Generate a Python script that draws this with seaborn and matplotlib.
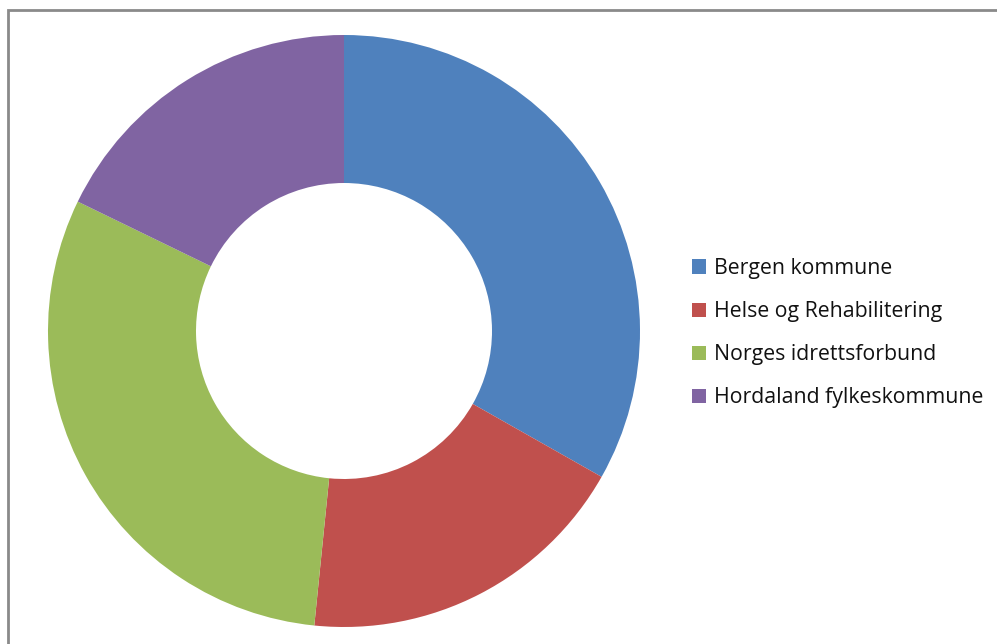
import matplotlib
matplotlib.use("Agg")
import matplotlib.pyplot as plt
import seaborn as sns
from matplotlib.patches import Rectangle, Patch

categories = ["Bergen kommune", "Helse og Rehabilitering", "Norges idrettsforbund", "Hordaland fylkeskommune"]
values = [33.2, 18.4, 30.6, 17.8]
colors = ["#4F81BD", "#C0504D", "#9BBB59", "#8064A2"]

sns.set_theme(style="white")
plt.rcParams["font.family"] = ["Open Sans", "DejaVu Sans"]

W, H = 997, 644
fig = plt.figure(figsize=(W / 100, H / 100), dpi=100)
fig.patch.set_facecolor("white")

# chart frame
fig.patches.append(Rectangle((8 / W, -0.1), 1.2, (H - 10) / H + 0.1, transform=fig.transFigure,
                             fill=False, edgecolor="#8a8a8a", linewidth=2.0, zorder=0))

cx, cy, r = 344, 331, 296
ax = fig.add_axes([(cx - r) / W, (H - cy - r) / H, 2 * r / W, 2 * r / H])
wedges, _ = ax.pie(values, colors=colors, startangle=90, counterclock=False, radius=1,
                   wedgeprops=dict(width=0.5, linewidth=0))
ax.set_xlim(-1, 1)
ax.set_ylim(-1, 1)
ax.set_aspect("equal")
ax.axis("off")

handles = [Patch(facecolor=c, edgecolor="none") for c in colors]
leg = fig.legend(handles, categories, loc="upper left",
                 bbox_to_anchor=(692 / W, (H - 258) / H), frameon=False,
                 fontsize=15.3, handlelength=0.65, handleheight=0.65, handletextpad=0.4,
                 labelspacing=1.04, borderpad=0, borderaxespad=0, labelcolor="#111111")

fig.savefig("out.png", dpi=100, facecolor="white")
